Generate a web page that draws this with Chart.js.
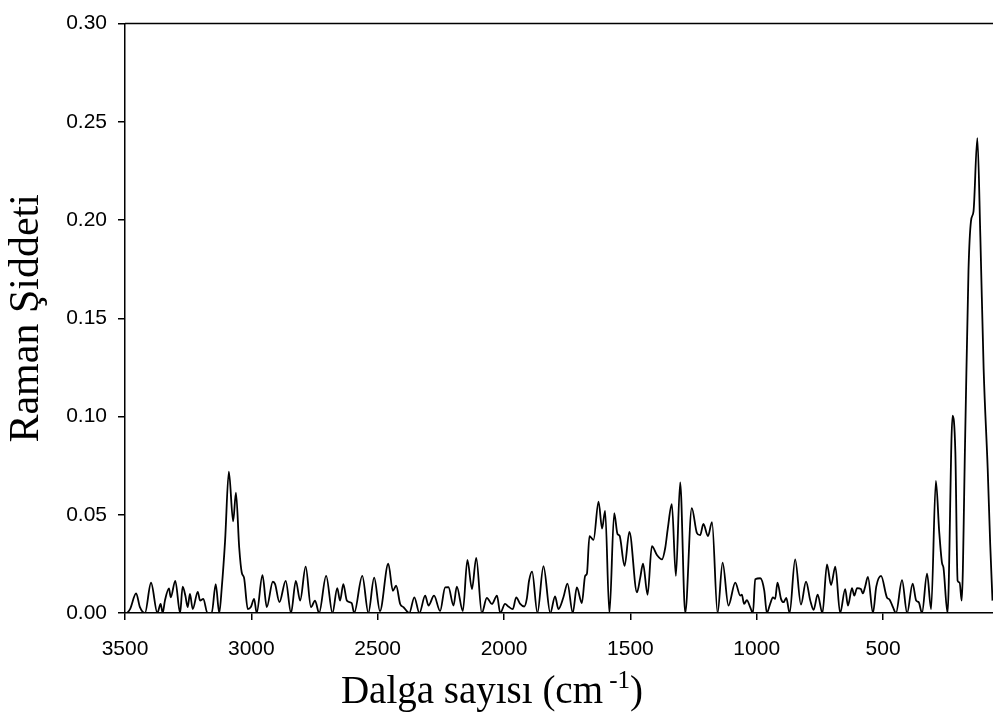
<!DOCTYPE html>
<html>
<head>
<meta charset="utf-8">
<script src="https://cdn.jsdelivr.net/npm/chart.js@4.4.1/dist/chart.umd.min.js"></script>
<style>
  html, body { margin: 0; padding: 0; background: #ffffff; }
  #wrap { width: 993px; height: 720px; position: relative; }
</style>
</head>
<body>
<div id="wrap"><canvas id="c" width="993" height="720"></canvas></div>
<script>
const wavenumber = [3500,3496,3480,3456,3441,3421,3397,3372,3359,3351,3342,3326,3319,3301,3282,3272,3261,3252,3243,3232,3212,3203,3190,3174,3157,3141,3127,3117,3104,3089,3072,3061,3048,3038,3029,3014,3002,2989,2979,2956,2939,2915,2906,2889,2864,2843,2824,2807,2785,2764,2748,2732,2704,2679,
2660,2649,2636,2622,2603,2593,2561,2537,2514,2491,2458,2440,2427,2411,2398,2375,2355,2335,2312,2299,2277,2253,2233,2220,2200,2187,2163,2145,2127,2110,2088,2068,2048,2028,2015,1996,1983,1965,1952,1936,1920,1910,1901,1889,1868,1844,
1817,1798,1785,1765,1749,1728,1712,1692,1679,1672,1662,1646,1626,1612,1600,1583,1564,1551,1543,1523,1504,1474,1461,1450,1432,1415,1395,1375,1362,1352,1336,1320,1303,1283,1257,1237,1224,1211,1193,1177,1155,1135,1112,1085,1065,1059,1050,1039,1026,1015,
1006,986,970,960,947,936,927,918,904,894,883,870,848,825,805,788,775,759,740,722,706,689,670,650,639,623,614,603,588,580,571,560,540,527,508,485,474,461,449,
425,405,383,369,359,346,326,310,291,278,267,261,245,225,214,205,197,189,175,162,152,142,127,115,102,86,76,67];

const intensity = [0,0,0.002,0.010,0.003,0,0.0154,0,0.0046,0,0.0063,0.0125,0.008,0.0164,0,0.0134,0.0088,0.003,0.0097,0.002,0.0108,0.0063,0.0072,0,0,0.0147,0,0.013,0.0366,0.0719,0.0466,0.0613,0.0332,0.0206,0.018,0.002,0.003,0.0072,0,0.0193,0.003,0.0159,0.0147,0.0055,0.0164,0,0.0164,0.0063,0.0236,0.003,0.0063,0,0.0189,0,
0.0127,0.0063,0.0147,0.0063,0.005,0,0.0189,0,0.018,0.001,0.0251,0.0113,0.0139,0.0046,0.003,0,0.008,0,0.0088,0.0038,0.0088,0.001,0.013,0.0131,0.0038,0.0134,0.001,0.027,0.0122,0.0281,0,0.0077,0.0046,0.0088,0,0.0046,0.0033,0.002,0.008,0.0046,0.0033,0.0072,0.0164,0.0211,0,0.0238,
0,0.0085,0.002,0.008,0.015,0,0.013,0.0051,0.0189,0.02,0.0391,0.0372,0.0567,0.043,0.052,0,0.0508,0.0402,0.0394,0.024,0.0413,0.0105,0.018,0.0251,0.0093,0.034,0.0295,0.0273,0.0332,0.043,0.0554,0.0189,0.0665,0,0.0534,0.0408,0.0396,0.0453,0.0391,0.0463,0,0.0256,0.0038,0.0155,0.0088,0.0093,0.0046,0.0066,0.003,0,
0.0172,0.0177,0.0113,0,0.0046,0.008,0.0072,0.0155,0.0072,0.0055,0.0077,0,0.0273,0.0043,0.016,0.0063,0.0016,0.0093,0,0.0248,0.0142,0.0236,0,0.0122,0.0038,0.0127,0.0088,0.0127,0.0122,0.01,0.0134,0.0184,0,0.0134,0.0189,0.008,0.0068,0.003,0,
0.0167,0,0.015,0.0063,0.0055,0,0.02,0.002,0.0672,0.0416,0.0256,0.0231,0,0.1005,0.082,0.0164,0.0155,0.0063,0.0904,0.1744,0.1996,0.2046,0.2417,0.1912,0.124,0.0735,0.0349,0.0063];

const xTickValues = [3500, 3000, 2500, 2000, 1500, 1000, 500];
const yTickValues = [0.00, 0.05, 0.10, 0.15, 0.20, 0.25, 0.30];
const xTitleMain = 'Dalga sayısı (cm';
const xTitleSup = ' -1';
const xTitleEnd = ')';
const yTitle = 'Raman Şiddeti';

const points = wavenumber.map((w, i) => ({ x: w, y: intensity[i] }));

const decorations = {
  id: 'decorations',
  afterDraw(chart) {
    const a = chart.chartArea, ctx = chart.ctx;
    ctx.save();
    // top frame line
    ctx.strokeStyle = '#000';
    ctx.lineWidth = 1.5;
    ctx.beginPath();
    ctx.moveTo(a.left, a.top);
    ctx.lineTo(a.right, a.top);
    ctx.stroke();
    // x axis title with superscript
    ctx.fillStyle = '#000';
    ctx.textBaseline = 'alphabetic';
    ctx.textAlign = 'left';
    const mainFont = '39px "Liberation Serif"';
    const supFont = '25px "Liberation Serif"';
    ctx.font = mainFont;
    const w1 = ctx.measureText(xTitleMain).width;
    const w3 = ctx.measureText(xTitleEnd).width;
    ctx.font = supFont;
    const w2 = ctx.measureText(xTitleSup).width;
    const total = w1 + w2 + w3;
    const cx = 492, base = 703;
    let x = cx - total / 2;
    ctx.font = mainFont;
    ctx.fillText(xTitleMain, x, base);
    x += w1;
    ctx.font = supFont;
    ctx.fillText(xTitleSup, x, base - 15);
    x += w2;
    ctx.font = mainFont;
    ctx.fillText(xTitleEnd, x, base);
    ctx.restore();
  }
};

new Chart(document.getElementById('c'), {
  type: 'line',
  data: {
    datasets: [{
      data: points,
      borderColor: '#000',
      borderWidth: 1.8,
      pointRadius: 0,
      cubicInterpolationMode: 'monotone',
      fill: false
    }]
  },
  options: {
    responsive: false,
    animation: false,
    layout: { padding: { top: 17, right: 0, left: 0, bottom: 0 } },
    plugins: { legend: { display: false }, tooltip: { enabled: false } },
    scales: {
      x: {
        type: 'linear',
        reverse: true,
        min: 65,
        max: 3500,
        afterBuildTicks(scale) { scale.ticks = xTickValues.map(v => ({ value: v })); },
        afterFit(scale) { scale.height = 107; },
        border: { display: true, color: '#000', width: 1.5 },
        grid: { display: true, drawOnChartArea: false, drawTicks: true, tickLength: 7, color: '#000', lineWidth: 1.5 },
        ticks: { color: '#000', font: { family: 'Liberation Sans', size: 21 }, padding: 17, maxRotation: 0, autoSkip: false,
                 callback: v => String(v) },
        title: { display: false }
      },
      y: {
        type: 'linear',
        min: 0,
        max: 0.30,
        afterBuildTicks(scale) { scale.ticks = yTickValues.map(v => ({ value: v })); },
        afterFit(scale) { scale.width = 125; },
        border: { display: true, color: '#000', width: 1.5 },
        grid: { display: true, drawOnChartArea: false, drawTicks: true, tickLength: 7, color: '#000', lineWidth: 1.5 },
        ticks: { color: '#000', font: { family: 'Liberation Sans', size: 21 }, padding: 11,
                 callback: v => Number(v).toFixed(2) },
        title: { display: true, text: yTitle, color: '#000', font: { family: 'Liberation Serif', size: 42 }, padding: { top: 2, bottom: 0 } }
      }
    }
  },
  plugins: [decorations]
});
</script>
</body>
</html>
